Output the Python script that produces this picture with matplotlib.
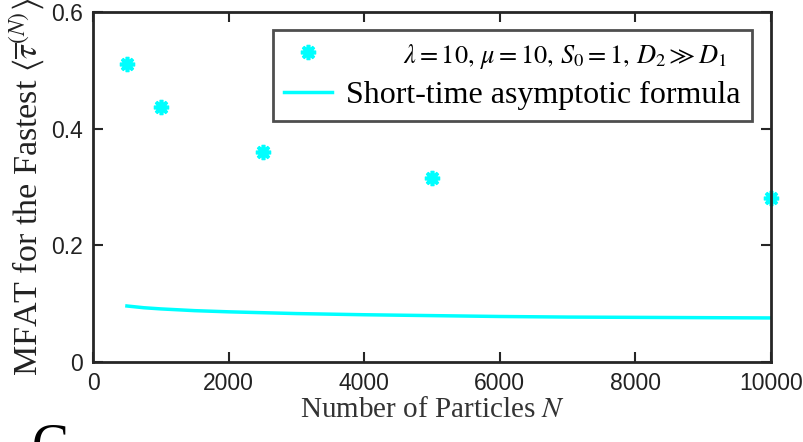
import numpy as np
import matplotlib
matplotlib.use('Agg')
import matplotlib.pyplot as plt

plt.rcParams['font.family'] = ['Liberation Sans', 'DejaVu Sans']
plt.rcParams['mathtext.fontset'] = 'stix'

# simulation points
n_sim = [500, 1000, 2500, 5000, 10000]
mfat_sim = [0.510, 0.437, 0.360, 0.316, 0.281]

# short-time asymptotic curve
n_asym = [500, 750, 1000, 1500, 2000, 3000, 4000, 5000, 6000, 7000, 8000, 9000, 10000]
mfat_asym = [0.096, 0.093, 0.091, 0.088, 0.086, 0.083, 0.081, 0.0795, 0.078, 0.077, 0.0765, 0.076, 0.0755]

cyan = '#00ffff'
axc = '#262626'

fig = plt.figure(figsize=(8.04, 4.42), dpi=100)
ax = fig.add_axes([0.1157, 0.181, 0.8433, 0.792])

ax.plot(n_sim, mfat_sim, linestyle='none', marker=(8, 2, 0), markersize=11,
        markeredgewidth=2.6, color=cyan, clip_on=False,
        label=r'$\quad\quad\quad\lambda=10,\,\mu=10,\,S_0=1,\,D_2\gg D_1$')
ax.plot(n_asym, mfat_asym, color=cyan, linewidth=2.5,
        label='Short-time asymptotic formula')

ax.set_xlim(0, 10000)
ax.set_ylim(0, 0.6)
ax.set_xticks(np.arange(0, 10001, 2000))
ax.set_yticks([0, 0.2, 0.4, 0.6])
ax.set_yticklabels(['0', '0.2', '0.4', '0.6'])

for s in ax.spines.values():
    s.set_linewidth(2)
    s.set_color(axc)
ax.tick_params(direction='in', length=7, width=1.5, colors=axc,
               labelsize=16.5, top=True, right=True, pad=7)
for lab in ax.get_xticklabels() + ax.get_yticklabels():
    lab.set_color('#222222')

ax.set_xlabel(r'Number of Particles $N$', family='Liberation Serif',
              fontsize=21, labelpad=2, color='#333333')
ax.set_ylabel(r'MFAT for the Fastest $\langle\overline{\tau}^{(N)}\rangle$',
              family='Liberation Serif', fontsize=24.5, labelpad=3, color='#222222')

leg = ax.legend(loc='upper right', prop={'family': 'Liberation Serif', 'size': 23},
                frameon=True, fancybox=False, handlelength=1.5,
                borderpad=0.35, labelspacing=0.3, handletextpad=0.45,
                borderaxespad=0, bbox_to_anchor=(0.972, 0.949))
leg.get_frame().set_edgecolor('#222222')
leg.get_frame().set_linewidth(2)
leg.get_texts()[0].set_fontsize(19)

fig.text(0.04, 0.045, 'C', family='Liberation Serif', fontsize=40, va='top')

fig.savefig('out.png', dpi=100)
